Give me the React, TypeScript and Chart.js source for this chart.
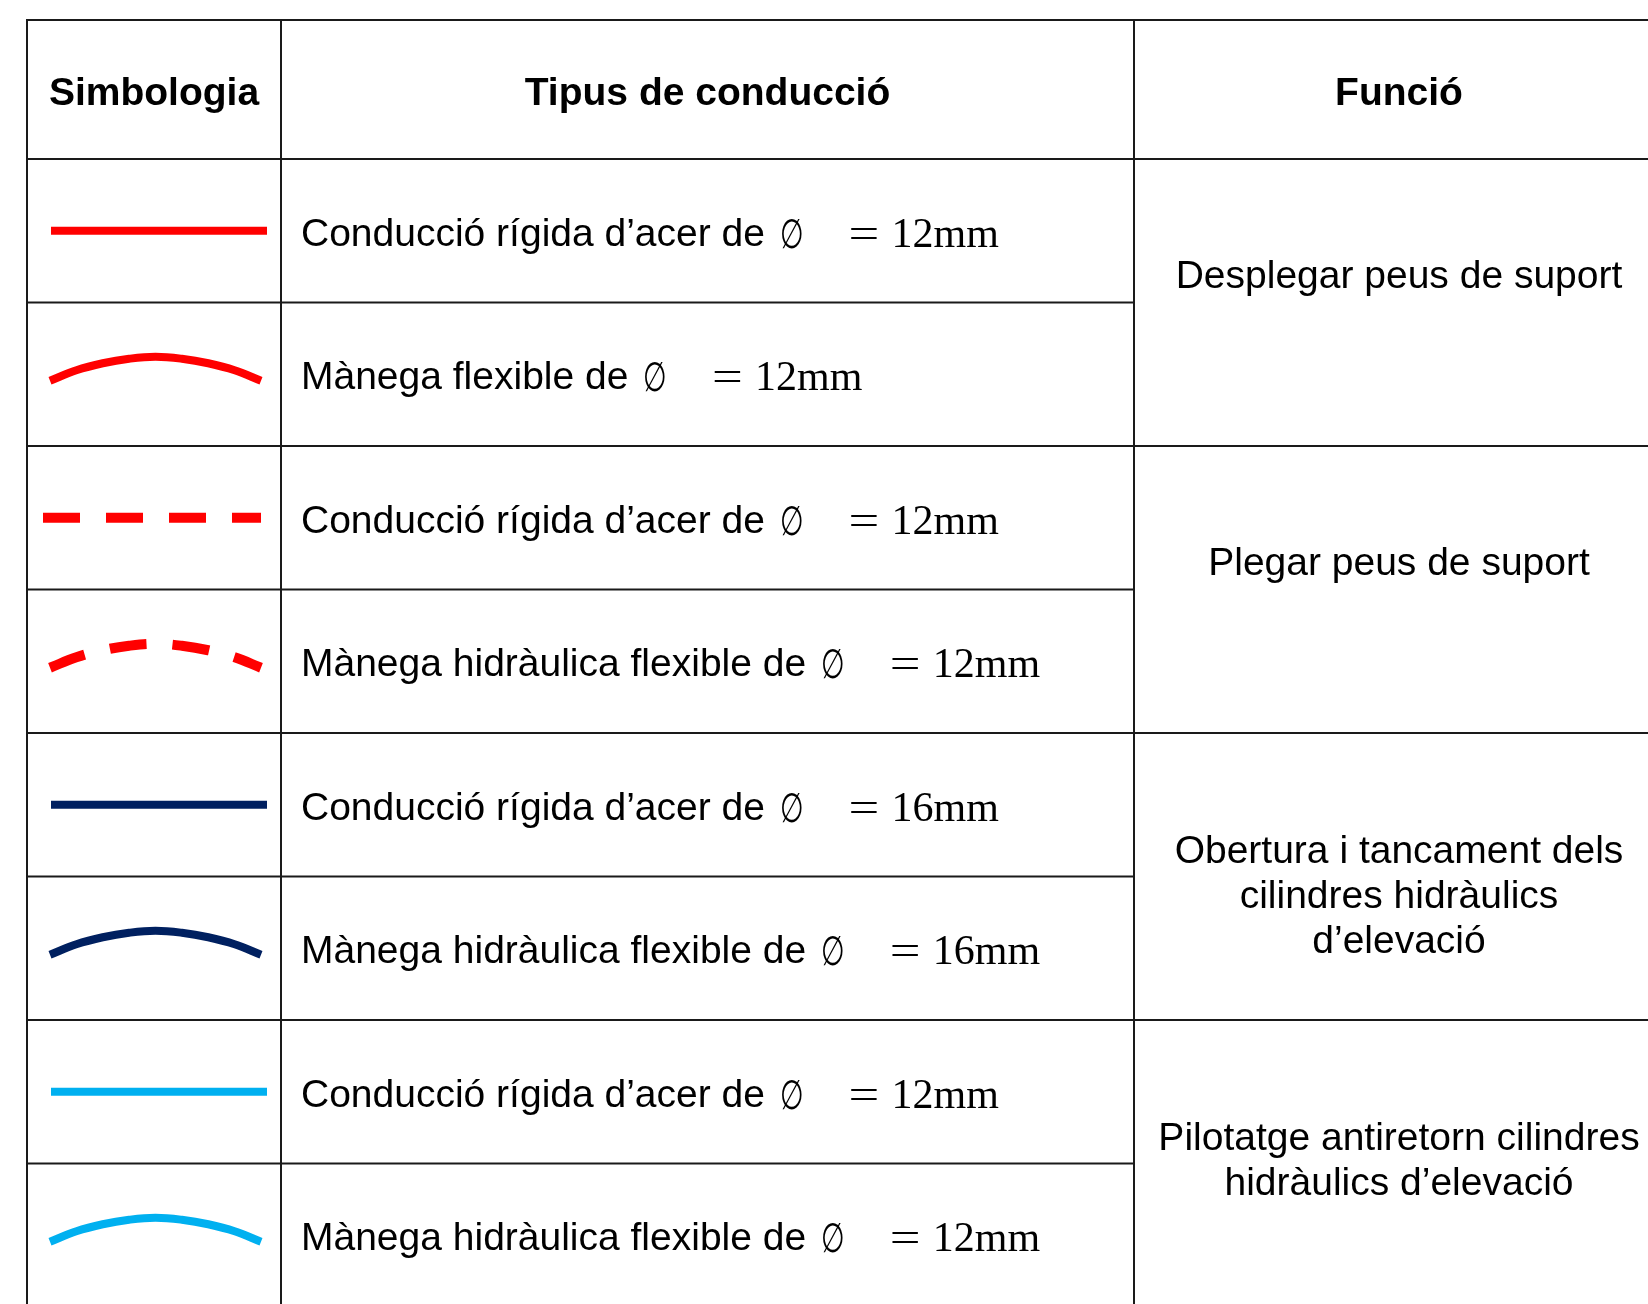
import React, { useEffect, useRef } from "react";
import { Chart, registerables } from "chart.js";

Chart.register(...registerables);

// ---------------- content ----------------
const HEADERS = ["Simbologia", "Tipus de conducció", "Funció"];

const SYMBOL_COLORS = ["#FF0000", "#FF0000", "#FF0000", "#FF0000", "#002060", "#002060", "#00B0F0", "#00B0F0"];
const SYMBOL_SHAPES = ["straight", "arc", "straight", "arc", "straight", "arc", "straight", "arc"];
const SYMBOL_DASHED = [false, false, true, true, false, false, false, false];

const CONDUCTION_LABELS = [
  "Conducció rígida d’acer de ∅",
  "Mànega flexible de ∅",
  "Conducció rígida d’acer de ∅",
  "Mànega hidràulica flexible de ∅",
  "Conducció rígida d’acer de ∅",
  "Mànega hidràulica flexible de ∅",
  "Conducció rígida d’acer de ∅",
  "Mànega hidràulica flexible de ∅",
];
const DIAMETERS = ["= 12mm", "= 12mm", "= 12mm", "= 12mm", "= 16mm", "= 16mm", "= 12mm", "= 12mm"];

const FUNCTIONS = [
  ["Desplegar peus de suport"],
  ["Plegar peus de suport"],
  ["Obertura i tancament dels", "cilindres hidràulics", "d’elevació"],
  ["Pilotatge antiretorn cilindres", "hidràulics d’elevació"],
];
const FUNCTION_SPANS = [2, 2, 2, 2];

// arc symbol profile (fraction of symbol width, vertical offset)
const ARC_PROFILE_X = [0, 0.125, 0.25, 0.375, 0.5, 0.625, 0.75, 0.875, 1];
const ARC_PROFILE_DY = [6.5, -4, -11, -15.5, -17.5, -15.5, -11, -4, 6.5];

// ---------------- layout ----------------
const W = 1648;
const H = 1304;
const COL_EDGES = [27, 281, 1134, 1664];
const TABLE_TOP = 20;
const HEADER_BOTTOM = 159;
const ROW_H = 143.5;
const N_ROWS = CONDUCTION_LABELS.length;
const FUNCTION_OFFSETS = [-29, -29, 17, -5];
const FUNCTION_LINE_H = 45;
const STRAIGHT_X = [51, 267];
const DASHED_X = [43, 261];
const ARC_X = [50, 261];
const FONT_PX = 39;
const SANS = '"Liberation Sans", Arial, sans-serif';
const SERIF = '"Liberation Serif", "Times New Roman", serif';
const LABEL_PAD = 20;
const PHI_SCALE_X = 0.7;
const PHI_SCALE_Y = 1.06;
const EQ_OFFSET = 45;
const VALUE_OFFSET = 88;
const GRID_COLOR = "#1a1a1a";
const GRID_W = 2;

const rowTop = (i: number) => HEADER_BOTTOM + i * ROW_H;
const rowMid = (i: number) => rowTop(i) + ROW_H / 2;

function buildDatasets() {
  const ds: any[] = [];
  const seg = (x0: number, y0: number, x1: number, y1: number) => ({
    type: "line",
    data: [{ x: x0, y: y0 }, { x: x1, y: y1 }],
    borderColor: GRID_COLOR,
    borderWidth: GRID_W,
    pointRadius: 0,
    tension: 0,
    fill: false,
  });
  const bottom = rowTop(N_ROWS);
  for (let c = 0; c < COL_EDGES.length - 1; c++) ds.push(seg(COL_EDGES[c], TABLE_TOP - 1, COL_EDGES[c], bottom));
  ds.push(seg(COL_EDGES[0] - 1, TABLE_TOP, COL_EDGES[3], TABLE_TOP));
  ds.push(seg(COL_EDGES[0] - 1, HEADER_BOTTOM, COL_EDGES[3], HEADER_BOTTOM));
  const groupEnds = new Set<number>();
  let acc = 0;
  FUNCTION_SPANS.forEach((s) => {
    acc += s;
    groupEnds.add(acc);
  });
  for (let i = 1; i <= N_ROWS; i++) {
    const right = groupEnds.has(i) ? COL_EDGES[3] : COL_EDGES[2];
    ds.push(seg(COL_EDGES[0] - 1, rowTop(i), right, rowTop(i)));
  }
  for (let i = 0; i < N_ROWS; i++) {
    const mid = rowMid(i);
    const dashed = SYMBOL_DASHED[i];
    const isArc = SYMBOL_SHAPES[i] === "arc";
    let data;
    if (!isArc) {
      const xr = dashed ? DASHED_X : STRAIGHT_X;
      data = [{ x: xr[0], y: mid }, { x: xr[1], y: mid }];
    } else {
      data = ARC_PROFILE_X.map((f, k) => ({ x: ARC_X[0] + f * (ARC_X[1] - ARC_X[0]), y: mid + ARC_PROFILE_DY[k] }));
    }
    ds.push({
      type: "line",
      data,
      borderColor: SYMBOL_COLORS[i],
      borderWidth: dashed ? 10 : 8,
      borderDash: dashed ? [37, 26] : [],
      borderCapStyle: "butt",
      borderJoinStyle: "round",
      pointRadius: 0,
      fill: false,
      tension: isArc ? 0.4 : 0,
      cubicInterpolationMode: "default",
    });
  }
  return ds;
}

const textPlugin = {
  id: "tableText",
  afterDatasetsDraw(chart: any) {
    const ctx = chart.ctx as CanvasRenderingContext2D;
    const xs = chart.scales.x;
    const ys = chart.scales.y;
    const px = (v: number) => xs.getPixelForValue(v);
    const py = (v: number) => ys.getPixelForValue(v);
    const capShift = FONT_PX * 0.36;
    ctx.save();
    ctx.fillStyle = "#000";
    ctx.textBaseline = "alphabetic";

    // headers
    ctx.font = `bold ${FONT_PX}px ${SANS}`;
    ctx.textAlign = "center";
    const hMid = (TABLE_TOP + HEADER_BOTTOM) / 2 + 1;
    HEADERS.forEach((h, c) => {
      ctx.fillText(h, px((COL_EDGES[c] + COL_EDGES[c + 1]) / 2), py(hMid) + capShift);
    });

    // conduction labels
    ctx.textAlign = "left";
    for (let i = 0; i < N_ROWS; i++) {
      const y = py(rowMid(i) + 1) + capShift;
      const x0 = px(COL_EDGES[1] + LABEL_PAD);
      const label = CONDUCTION_LABELS[i];
      const hasPhi = label.endsWith("∅");
      const prefix = hasPhi ? label.slice(0, -1) : label;
      ctx.font = `${FONT_PX}px ${SANS}`;
      ctx.fillText(prefix, x0, y);
      let end = x0 + ctx.measureText(prefix).width;
      if (hasPhi) {
        const phiStart = end + 4;
        const pw = ctx.measureText("∅").width;
        ctx.save();
        ctx.translate(phiStart, y + 2);
        ctx.scale(PHI_SCALE_X, PHI_SCALE_Y);
        ctx.fillText("∅", 0, 0);
        ctx.restore();
        end = phiStart + pw * PHI_SCALE_X;
      }
      const parts = DIAMETERS[i].split(" ");
      ctx.font = `${FONT_PX + 3}px ${SERIF}`;
      ctx.save();
      ctx.translate(end + EQ_OFFSET, y + 1);
      ctx.scale(1.3, 1);
      ctx.fillText(parts[0], 0, 0);
      ctx.restore();
      ctx.fillText(parts.slice(1).join(" "), end + VALUE_OFFSET, y + 1);
    }

    // functions (merged cells)
    ctx.font = `${FONT_PX}px ${SANS}`;
    ctx.textAlign = "center";
    let start = 0;
    FUNCTIONS.forEach((lines, g) => {
      const span = FUNCTION_SPANS[g];
      const center = (rowTop(start) + rowTop(start + span)) / 2 + FUNCTION_OFFSETS[g];
      const cx = px((COL_EDGES[2] + COL_EDGES[3]) / 2);
      lines.forEach((ln, k) => {
        const yy = center + (k - (lines.length - 1) / 2) * FUNCTION_LINE_H;
        ctx.fillText(ln, cx, py(yy) + capShift);
      });
      start += span;
    });
    ctx.restore();
  },
};

export default function App() {
  const ref = useRef<HTMLCanvasElement | null>(null);
  useEffect(() => {
    if (!ref.current) return;
    const chart = new Chart(ref.current, {
      type: "scatter",
      data: { datasets: buildDatasets() },
      options: {
        animation: false,
        responsive: false,
        maintainAspectRatio: false,
        devicePixelRatio: 1,
        events: [],
        layout: { padding: 0 },
        plugins: { legend: { display: false }, tooltip: { enabled: false }, title: { display: false } },
        scales: {
          x: { type: "linear", min: 0, max: W, display: false },
          y: { type: "linear", min: 0, max: H, reverse: true, display: false },
        },
      },
      plugins: [textPlugin],
    } as any);
    return () => chart.destroy();
  }, []);
  return (
    <div style={{ position: "absolute", left: 0, top: 0, width: W, height: H, background: "#fff", overflow: "hidden" }}>
      <canvas ref={ref} width={W} height={H} style={{ display: "block", width: W, height: H }} />
    </div>
  );
}
